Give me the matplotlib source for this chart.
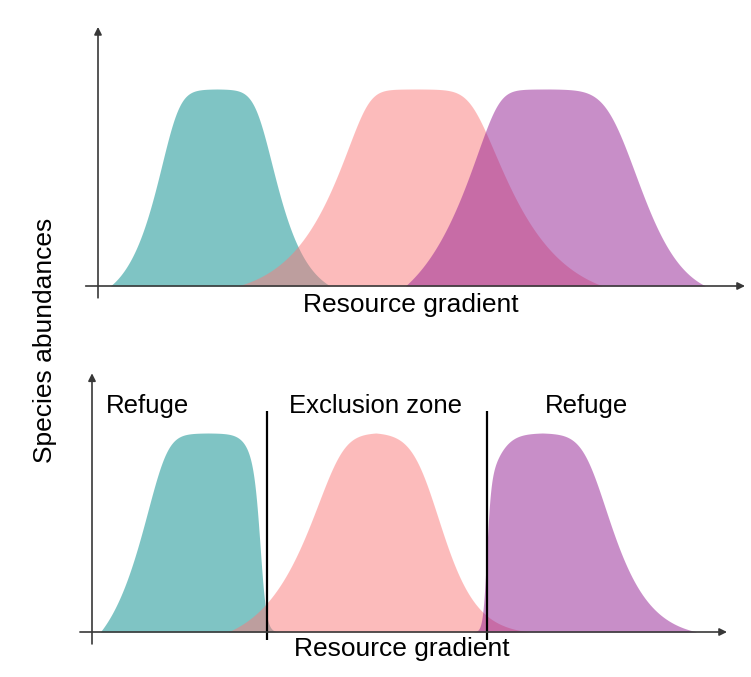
import numpy as np
import matplotlib.pyplot as plt

plt.rcParams['font.family'] = ['Liberation Sans', 'DejaVu Sans']

# Species niches along the resource gradient (gradient units, peak = 1)
SPECIES_COLOURS = ["#008b8b", "#fb7979", "#931f93"]
PEAK = [1.0, 1.0, 1.0]

# top panel: fundamental niches  (left side / right side of each bell)
TOP_CENTRE = [1.84, 4.96, 6.99]
TOP_SHOULDER_L = [0.63, 0.77, 0.79]
TOP_KNEE_L = [0.12, 0.12, 0.12]
TOP_SPREAD_L = [0.48, 0.82, 0.88]
TOP_SHAPE_L = [1.2, 1.2, 1.2]
TOP_REACH_L = [1.65, 2.80, 2.24]
TOP_SHOULDER_R = [0.62, 0.79, 0.84]
TOP_KNEE_R = [0.12, 0.15, 0.22]
TOP_SPREAD_R = [0.48, 0.93, 0.77]
TOP_SHAPE_R = [1.2, 1.2, 1.5]
TOP_REACH_R = [1.75, 2.84, 2.40]

# bottom panel: realised niches after competition
BOT_CENTRE = [1.83, 4.47, 7.09]
BOT_SHOULDER_L = [0.68, 0.55, 0.71]
BOT_KNEE_L = [0.13, 0.17, 0.17]
BOT_SPREAD_L = [0.61, 0.80, 0.60]
BOT_SHAPE_L = [1.2, 1.2, 1.2]
BOT_REACH_L = [1.70, 2.33, 2.44]
BOT_SHOULDER_R = [0.68, 0.74, 0.71]
BOT_KNEE_R = [0.13, 0.21, 0.17]
BOT_SPREAD_R = [0.61, 0.49, 0.60]
BOT_SHAPE_R = [1.2, 1.2, 1.2]
BOT_REACH_R = [1.70, 2.43, 2.44]
CUT_EDGE = [2.66, None, 6.21]
CUT_SOFTNESS = [0.048, None, -0.032]

BOUNDARIES = [2.76, 6.22]
ZONE_LABELS = ["Refuge", "Exclusion zone", "Refuge"]
ZONE_X = [0.87, 4.46, 7.79]

X_LABEL = "Resource gradient"
Y_LABEL = "Species abundances"


def side(x, c, a, k, s, p, reach):
    # flat shoulder of width a, smoothed by k, then a stretched-exponential fall
    d = np.abs(x - c)
    z = lambda v: k * np.logaddexp(0, (v - a) / k)
    g0 = np.exp(-(z(0) / s) ** p)
    h = np.exp(-(z(d) / s) ** p) / g0
    e = np.exp(-(z(reach) / s) ** p) / g0
    y = (h - e) / (1 - e)
    y[d > reach] = 0
    return np.clip(y, 0, None)


def niche(x, i, centre, left, right):
    c = centre[i]
    yl = side(x, c, *[v[i] for v in left])
    yr = side(x, c, *[v[i] for v in right])
    return PEAK[i] * np.where(x < c, yl, yr)


def draw_axes(ax, y_top, x_end):
    kw = dict(arrowstyle='-|>', color='#383838', lw=1.2, mutation_scale=11,
              shrinkA=0, shrinkB=0)
    ax.annotate('', xy=(x_end, 0), xytext=(-0.19, 0), arrowprops=kw)
    ax.annotate('', xy=(0, y_top), xytext=(0, -0.06), arrowprops=kw)


top_left = [TOP_SHOULDER_L, TOP_KNEE_L, TOP_SPREAD_L, TOP_SHAPE_L, TOP_REACH_L]
top_right = [TOP_SHOULDER_R, TOP_KNEE_R, TOP_SPREAD_R, TOP_SHAPE_R, TOP_REACH_R]
bot_left = [BOT_SHOULDER_L, BOT_KNEE_L, BOT_SPREAD_L, BOT_SHAPE_L, BOT_REACH_L]
bot_right = [BOT_SHOULDER_R, BOT_KNEE_R, BOT_SPREAD_R, BOT_SHAPE_R, BOT_REACH_R]

fig = plt.figure(figsize=(7.51, 6.77), dpi=100)

ax_top = fig.add_axes([0, 1 - 338 / 677, 1, 338 / 677])
ax_top.set_xlim(-98 / 64.7, (751 - 98) / 64.7)
ax_top.set_ylim(-52 / 197, 286 / 197)

ax_bot = fig.add_axes([0, 0, 1, 339 / 677])
ax_bot.set_xlim(-92 / 63.5, (751 - 92) / 63.5)
ax_bot.set_ylim(-45 / 199, 294 / 199)

for ax in (ax_top, ax_bot):
    ax.set_axis_off()

draw_axes(ax_top, 1.315, 10.0)
draw_axes(ax_bot, 1.30, 10.0)

x = np.linspace(-0.5, 10.5, 4000)

for i, col in enumerate(SPECIES_COLOURS):
    y = niche(x, i, TOP_CENTRE, top_left, top_right)
    ax_top.fill_between(x, 0, y, where=y > 1e-3, color=col, alpha=0.5, lw=0)

for i, col in enumerate(SPECIES_COLOURS):
    y = niche(x, i, BOT_CENTRE, bot_left, bot_right)
    if CUT_EDGE[i] is not None:
        y = y / (1 + np.exp((x - CUT_EDGE[i]) / CUT_SOFTNESS[i]))
    ax_bot.fill_between(x, 0, y, where=y > 1e-3, color=col, alpha=0.5, lw=0)

for b in BOUNDARIES:
    ax_bot.plot([b, b], [-0.04, 1.11], color='black', lw=1.6, solid_capstyle='butt')

for lab, zx in zip(ZONE_LABELS, ZONE_X):
    ax_bot.text(zx, 1.10, lab, ha='center', va='baseline', fontsize=18.5)

ax_top.text(4.84, -0.132, X_LABEL, ha='center', va='baseline', fontsize=19)
ax_bot.text(4.88, -0.121, X_LABEL, ha='center', va='baseline', fontsize=19)
fig.text(45 / 751, 1 - 340 / 677, Y_LABEL, rotation=90, ha='center', va='center',
         fontsize=19)

fig.savefig('out.png', dpi=100, facecolor='white')
